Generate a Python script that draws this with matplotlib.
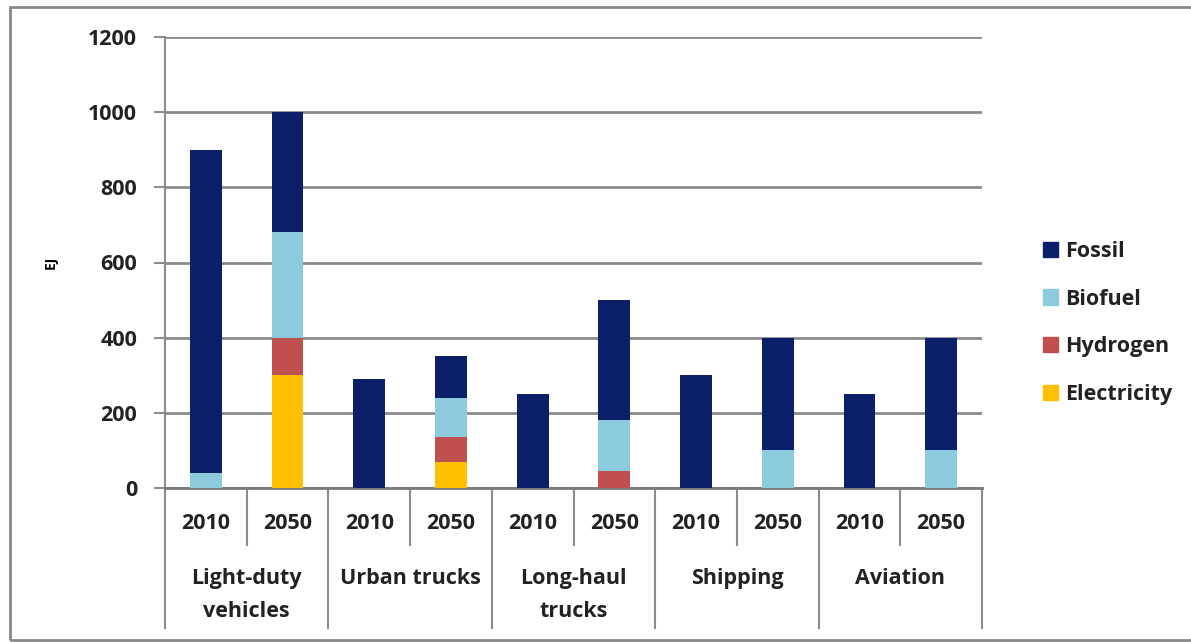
import matplotlib.pyplot as plt
import matplotlib.transforms as mtransforms
from matplotlib.patches import Rectangle, Patch
import numpy as np

categories = ['Light-duty\nvehicles', 'Urban trucks', 'Long-haul\ntrucks', 'Shipping', 'Aviation']
years = ['2010', '2050']
series = ['Electricity', 'Hydrogen', 'Biofuel', 'Fossil']
# values per bar: (category, year) order
electricity = [0, 300, 0, 70, 0, 0, 0, 0, 0, 0]
hydrogen = [0, 100, 0, 65, 0, 45, 0, 0, 0, 0]
biofuel = [40, 280, 0, 105, 0, 135, 0, 100, 0, 100]
fossil = [860, 320, 290, 110, 250, 320, 300, 300, 250, 300]

colors = {'Fossil': '#0b2068', 'Biofuel': '#8ccbdd', 'Hydrogen': '#c0504d', 'Electricity': '#ffc000'}
grid_c = '#8c8c8c'
font = 'Open Sans'
fs = 15.5

fig = plt.figure(figsize=(11.91, 6.42), dpi=100)
ax = fig.add_axes([165/1191, 1 - 488/642, (982 - 165)/1191, 451/642])

x = np.arange(len(fossil))
bottom = np.zeros(len(x))
for name, vals in zip(series, [electricity, hydrogen, biofuel, fossil]):
    ax.bar(x, vals, width=0.39, bottom=bottom, color=colors[name], zorder=3)
    bottom += np.array(vals)

ax.set_xlim(-0.5, len(x) - 0.5)
ax.set_ylim(0, 1200)
ax.set_yticks(range(0, 1201, 200))
ax.yaxis.grid(True, color=grid_c, linewidth=2)
ax.set_axisbelow(True)
for s in ['top', 'right']:
    ax.spines[s].set_visible(False)
ax.spines['left'].set_color(grid_c)
ax.spines['left'].set_linewidth(1.5)
ax.spines['bottom'].set_color('#7a7a7a')
ax.spines['bottom'].set_linewidth(2)
ax.tick_params(axis='y', length=8, width=1.5, color=grid_c, pad=12)
for lab in ax.get_yticklabels():
    lab.set_fontfamily(font)
    lab.set_fontweight('bold')
    lab.set_fontsize(fs)
    lab.set_color('#222222')
ax.set_xticks([])
ax.set_ylabel('EJ', fontfamily=font, fontweight='bold', fontsize=10, labelpad=22)

# hierarchical x labels
trans = mtransforms.blended_transform_factory(ax.transData, ax.transAxes)
for i in range(len(x)):
    ax.text(i, -0.078, years[i % 2], transform=trans, ha='center', va='center',
            fontfamily=font, fontweight='bold', fontsize=fs, color='#222222')
for i in range(len(x) - 1):
    xb = i + 0.5
    if i % 2 == 0:
        ax.plot([xb, xb], [0, -0.126], transform=trans, color=grid_c, lw=1.5, clip_on=False)
    else:
        ax.plot([xb, xb], [0, -0.31], transform=trans, color=grid_c, lw=1.5, clip_on=False)
for xb in [-0.5, len(x) - 0.5]:
    ax.plot([xb, xb], [0, -0.31], transform=trans, color=grid_c, lw=1.5, clip_on=False)
for j, cat in enumerate(categories):
    ax.text(2 * j + 0.5, -0.178, cat, transform=trans, ha='center', va='top',
            fontfamily=font, fontweight='bold', fontsize=fs, color='#222222', linespacing=1.75)

handles = [Patch(color=colors[n]) for n in ['Fossil', 'Biofuel', 'Hydrogen', 'Electricity']]
leg = fig.legend(handles, ['Fossil', 'Biofuel', 'Hydrogen', 'Electricity'],
                 loc='center left', bbox_to_anchor=(1024/1191, 1 - 323/642), frameon=False,
                 handlelength=0.7, handleheight=0.7, handletextpad=0.3, labelspacing=1.25,
                 prop={'family': font, 'weight': 'bold', 'size': fs})
for t in leg.get_texts():
    t.set_color('#222222')

fig.patches.append(Rectangle((10/1191, 2/642), 1.2, 633/642, transform=fig.transFigure,
                             fill=False, edgecolor='#888888', linewidth=2))

fig.savefig('out.png', dpi=100)
